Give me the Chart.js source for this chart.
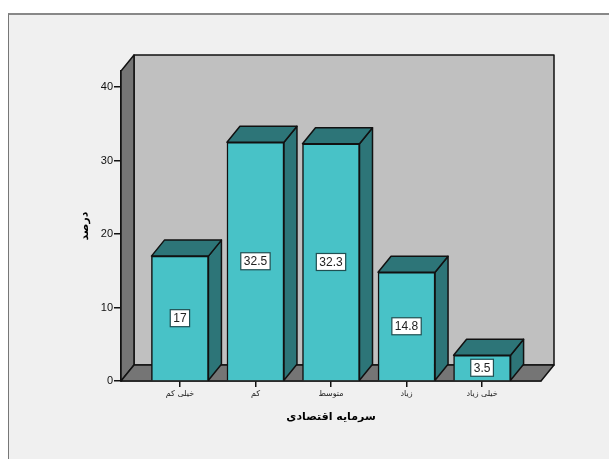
<!DOCTYPE html>
<html lang="fa">
<head>
<meta charset="utf-8">
<title>سرمایه اقتصادی</title>
<script src="https://cdn.jsdelivr.net/npm/chart.js@4"></script>
<style>
html, body { margin: 0; padding: 0; background: #ffffff; overflow: hidden; }
#frame { position: absolute; left: 8px; top: 13px; width: 601px; height: 446px; box-sizing: border-box;
  background: #f0f0f0; border-left: 1px solid #777; border-top: 2px solid #888; }
#wrap { position: absolute; left: 0; top: 0; width: 609px; height: 459px; }
</style>
</head>
<body>
<div id="frame"></div>
<div id="wrap"><canvas id="chart"></canvas></div>
<script>
const categories = ['خیلی کم', 'کم', 'متوسط', 'زیاد', 'خیلی زیاد'];
const values = [17, 32.5, 32.3, 14.8, 3.5];
const yTicks = [0, 10, 20, 30, 40];
const xTitle = 'سرمایه اقتصادی';
const yTitle = 'درصد';

const DEPTH_X = 13;
const DEPTH_Y = 16;
const LINE = '#111111';

const poly = (ctx, pts, fill, width = 1.5) => {
    ctx.beginPath();
    pts.forEach(([x, y], i) => (i ? ctx.lineTo(x, y) : ctx.moveTo(x, y)));
    ctx.closePath();
    ctx.fillStyle = fill;
    ctx.fill();
    ctx.lineWidth = width;
    ctx.strokeStyle = LINE;
    ctx.stroke();
};

// walls, floor and the side faces of the bars
const box3d = {
    id: 'box3d',
    beforeDatasetsDraw(chart) {
        const { ctx, chartArea: { left, right, top, bottom } } = chart;
        ctx.save();
        ctx.lineJoin = 'round';
        poly(ctx, [[left + DEPTH_X, top - DEPTH_Y], [right + DEPTH_X, top - DEPTH_Y], [right + DEPTH_X, bottom - DEPTH_Y], [left + DEPTH_X, bottom - DEPTH_Y]], '#c0c0c0');
        poly(ctx, [[left, top], [left + DEPTH_X, top - DEPTH_Y], [left + DEPTH_X, bottom - DEPTH_Y], [left, bottom]], '#757575');
        poly(ctx, [[left, bottom], [left + DEPTH_X, bottom - DEPTH_Y], [right + DEPTH_X, bottom - DEPTH_Y], [right, bottom]], '#757575');
        chart.getDatasetMeta(0).data.forEach((bar) => {
            const l = bar.x - bar.width / 2;
            const r = bar.x + bar.width / 2;
            poly(ctx, [[r, bar.y], [r + DEPTH_X, bar.y - DEPTH_Y], [r + DEPTH_X, bar.base - DEPTH_Y], [r, bar.base]], '#2d7578');
            poly(ctx, [[l, bar.y], [l + DEPTH_X, bar.y - DEPTH_Y], [r + DEPTH_X, bar.y - DEPTH_Y], [r, bar.y]], '#2d7578');
        });
        ctx.restore();
    },
    afterDatasetsDraw(chart) {
        const { ctx } = chart;
        ctx.save();
        ctx.font = '12px "Liberation Sans", Arial, sans-serif';
        ctx.textAlign = 'center';
        ctx.textBaseline = 'middle';
        chart.getDatasetMeta(0).data.forEach((bar, i) => {
            const text = String(values[i]);
            const w = ctx.measureText(text).width + 6;
            const h = 17;
            const cy = (bar.y + bar.base) / 2;
            ctx.fillStyle = '#ffffff';
            ctx.fillRect(bar.x - w / 2, cy - h / 2, w, h);
            ctx.lineWidth = 1.2;
            ctx.strokeStyle = '#1f4f52';
            ctx.strokeRect(bar.x - w / 2, cy - h / 2, w, h);
            ctx.fillStyle = '#222222';
            ctx.fillText(text, bar.x, cy + 0.5);
        });
        ctx.restore();
    }
};

new Chart(document.getElementById('chart').getContext('2d'), {
    type: 'bar',
    plugins: [box3d],
    data: {
        datasets: [{
            data: values.map((v, i) => ({ x: i, y: v })),
            backgroundColor: '#48c2c7',
            borderColor: LINE,
            borderWidth: 1.5,
            barThickness: 57
        }]
    },
    options: {
        responsive: true,
        maintainAspectRatio: false,
        animation: false,
        layout: { padding: { left: 79, right: 68, top: 71, bottom: 0 } },
        plugins: { legend: { display: false }, tooltip: { enabled: false } },
        scales: {
            x: {
                type: 'linear',
                offset: false,
                min: -0.78,
                max: 4.78,
                afterBuildTicks: (scale) => { scale.ticks = categories.map((_, i) => ({ value: i })); },
                afterFit: (scale) => { scale.height = 78; },
                ticks: {
                    autoSkip: false,
                    maxRotation: 0,
                    padding: 2,
                    color: '#222222',
                    font: { family: '"DejaVu Sans", sans-serif', size: 8 },
                    callback: (value) => categories[value]
                },
                grid: { offset: false, drawOnChartArea: false, color: LINE, tickLength: 6, lineWidth: 1.5 },
                border: { color: LINE, width: 1.5 },
                title: {
                    display: true,
                    text: xTitle,
                    color: '#000000',
                    font: { family: '"DejaVu Sans", sans-serif', size: 11, weight: 'bold' },
                    padding: { top: 0, bottom: 35 }
                }
            },
            y: {
                min: 0,
                max: 42.2,
                afterBuildTicks: (scale) => { scale.ticks = yTicks.map((value) => ({ value })); },
                afterFit: (scale) => { scale.width = 42; },
                ticks: {
                    padding: 1,
                    color: '#111111',
                    font: { family: '"Liberation Sans", Arial, sans-serif', size: 11 }
                },
                grid: { drawOnChartArea: false, color: LINE, tickLength: 7, lineWidth: 1.5 },
                border: { color: LINE, width: 1.5 },
                title: {
                    display: true,
                    text: yTitle,
                    color: '#000000',
                    font: { family: '"DejaVu Sans", sans-serif', size: 11, weight: 'bold' },
                    padding: 0
                }
            }
        }
    }
});
</script>
</body>
</html>
